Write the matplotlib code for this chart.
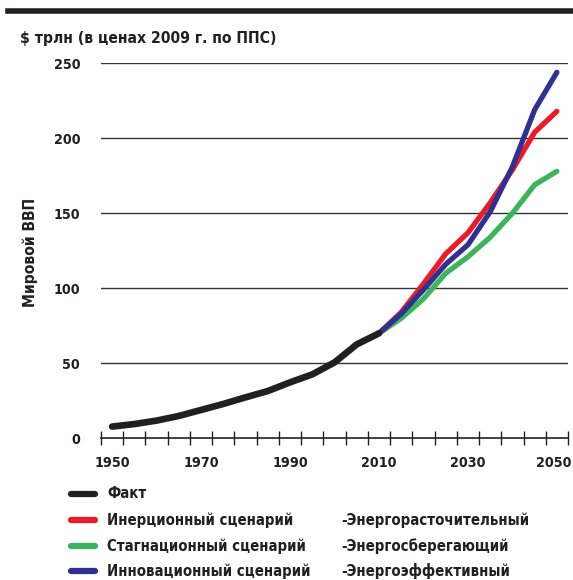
import numpy as np
import matplotlib
matplotlib.use('Agg')
import matplotlib.pyplot as plt
import matplotlib.transforms as mtransforms
from matplotlib.lines import Line2D
from matplotlib import font_manager

# look for a narrow bold face, the reference uses a condensed font
narrow = None
for f in font_manager.fontManager.ttflist:
    if ('Narrow' in f.name or 'Condensed' in f.name or f.stretch in ('condensed', 'semi-condensed')) \
            and f.weight in ('bold', 700, 'heavy', 800):
        narrow = f
        break
if narrow is not None:
    plt.rcParams['font.family'] = [narrow.name, 'DejaVu Sans']
    stretch = narrow.stretch
else:
    plt.rcParams['font.family'] = ['DejaVu Sans']
    stretch = 'normal'
plt.rcParams['font.weight'] = 'bold'
plt.rcParams['font.stretch'] = stretch

# Data
years_fact = [1950, 1955, 1960, 1965, 1970, 1975, 1980, 1985, 1990, 1995, 2000, 2005, 2010]
gdp_fact = [7.8, 9.5, 11.8, 14.9, 18.9, 22.9, 27.3, 31.5, 37.3, 42.6, 50.6, 62.6, 70]

years_scen = [2010, 2015, 2020, 2025, 2030, 2035, 2040, 2045, 2050]
gdp_inertia = [70, 84, 103, 123, 137, 157, 179, 204, 218]
gdp_stagnation = [70, 80, 93, 110, 121, 134, 150, 169, 178]
gdp_innovation = [70, 83, 99, 116, 129, 151, 181, 219, 244]

year_labels = [1950, 1970, 1990, 2010, 2030, 2050]
y_ticks = [0, 50, 100, 150, 200, 250]

legend_names = ['Факт', 'Инерционный сценарий', 'Стагнационный сценарий', 'Инновационный сценарий']
legend_notes = ['', '-Энергорасточительный', '-Энергосберегающий', '-Энергоэффективный']
colors = ['#231f20', '#ed1c24', '#3cb55a', '#2e3192']
ink = '#231f20'

fig = plt.figure(figsize=(5.73, 5.8), dpi=100)
renderer = fig.canvas.get_renderer()


def fit(txt, width_px, size=14, use_height=False):
    # shrink the font until the text is no larger than in the reference
    txt.set_fontsize(size)
    while size > 6:
        ext = txt.get_window_extent(renderer)
        if (ext.height if use_height else ext.width) <= width_px:
            break
        size -= 0.25
        txt.set_fontsize(size)
    return size


ax = fig.add_axes([101/573, 1 - 438.3/580, 467/573, 375/580])

# thick bar on top
fig.add_artist(Line2D([8/573, 1], [1 - 10.5/580, 1 - 10.5/580], color=ink, lw=4,
                      transform=fig.transFigure))

ax.plot(years_scen, gdp_inertia, color=colors[1], lw=3.8, solid_capstyle='round', zorder=3)
ax.plot(years_scen, gdp_stagnation, color=colors[2], lw=3.8, solid_capstyle='round', zorder=3)
ax.plot(years_scen, gdp_innovation, color=colors[3], lw=3.8, solid_capstyle='round', zorder=4)
ax.plot(years_fact, gdp_fact, color=colors[0], lw=4.8, solid_capstyle='round', zorder=5)

ax.set_xlim(1947.5, 2052.5)
ax.set_ylim(0, 250)

# size for tick labels: "1950" is about 36 px wide in the reference
probe = fig.text(0, 0, '1950', fontweight='bold')
tick_size = fit(probe, 36)
probe.remove()

ax.set_yticks(y_ticks)
ax.set_yticklabels([str(v) for v in y_ticks], fontsize=tick_size, fontweight='bold', color=ink)
ax.tick_params(axis='y', length=0, pad=15)
for v in y_ticks[1:]:
    ax.axhline(v, color='#333333', lw=1.0, zorder=1)

ax.set_xticks(year_labels)
ax.set_xticklabels([str(y) for y in year_labels], fontsize=tick_size, fontweight='bold', color=ink)
ax.set_xticks(np.arange(1947.5, 2053, 5), minor=True)
ax.tick_params(axis='x', which='major', length=0, pad=13)
ax.tick_params(axis='x', which='minor', length=10, direction='inout', width=1, color=ink)
# keep the last year label inside the picture
last = ax.get_xticklabels()[-1]
last.set_transform(last.get_transform() + mtransforms.ScaledTranslation(-3/100, 0, fig.dpi_scale_trans))

for s in ['top', 'right', 'left']:
    ax.spines[s].set_visible(False)
ax.spines['bottom'].set_color(ink)
ax.spines['bottom'].set_linewidth(1.2)

t = fig.text(20/573, 1 - 39/580, '$ трлн (в ценах 2009 г. по ППС)', fontweight='bold',
             va='center', ha='left', color=ink)
fit(t, 262)
t = fig.text(30/573, 1 - 252/580, 'Мировой ВВП', fontweight='bold', color=ink,
             rotation=90, va='center', ha='center')
fit(t, 110, use_height=True)

# legend
row_y = [494, 520, 546, 571]
leg_size = 14
probe = fig.text(0, 0, legend_names[3], fontweight='bold')
leg_size = min(leg_size, fit(probe, 206))
probe.remove()
probe = fig.text(0, 0, legend_notes[1], fontweight='bold')
leg_size = min(leg_size, fit(probe, 193))
probe.remove()

for name, note, c, y in zip(legend_names, legend_notes, colors, row_y):
    yf = 1 - y / 580
    fig.add_artist(Line2D([71/573, 95/573], [yf, yf], color=c, lw=4.5, solid_capstyle='round',
                          transform=fig.transFigure))
    fig.text(107/573, yf, name, fontsize=leg_size, fontweight='bold', va='center', ha='left',
             color=ink)
    if note:
        fig.text(341/573, yf, note, fontsize=leg_size, fontweight='bold', va='center', ha='left',
                 color=ink)

fig.savefig('out.png', dpi=100)
